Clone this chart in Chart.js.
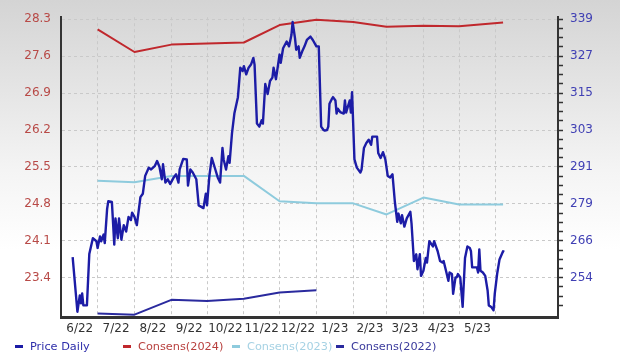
<!DOCTYPE html>
<html><head><meta charset="utf-8">
<script src="https://cdn.jsdelivr.net/npm/chart.js@4"></script>
<style>
html,body{margin:0;padding:0;}
body{width:620px;height:357px;overflow:hidden;position:relative;
  background:linear-gradient(to bottom,#d4d4d4 0px,#f4f4f4 170px,#ffffff 250px);
  font-family:'DejaVu Sans',sans-serif;}
#c{position:absolute;left:0;top:0;}
#legend{position:absolute;left:15px;top:339px;font-size:11.3px;white-space:nowrap;line-height:16px;}
.item{display:inline-block;}
.sw{display:inline-block;width:8px;height:3px;vertical-align:middle;margin-right:7px;position:relative;top:-1px;}
</style></head><body>
<canvas id="c" width="620" height="357"></canvas>
<div id="legend"></div>
<script>
// ---- data ----
const monthLabels = ['6/22','7/22','8/22','9/22','10/22','11/22','12/22','1/23','2/23','3/23','4/23','5/23'];
const leftTicks = [23.4, 24.1, 24.8, 25.5, 26.2, 26.9, 27.6, 28.3];
const rightTickLabels = ['254','266','279','291','303','315','327','339'];
const seriesNames = ['Price Daily','Consens(2024)','Consens(2023)','Consens(2022)'];

// days since 2022-06-01
const priceDays = [9,13,15,16,17,18,21,23,26,29,30,32,33,35,36,38,39,42,44,45,47,48,50,52,54,56,58,59,61,63,66,68,70,73,75,78,80,82,84,85,87,89,91,94,96,98,99,102,105,106,108,110,113,115,119,121,122,124,126,129,131,133,135,136,138,140,141,143,145,148,150,152,153,155,157,159,161,162,164,166,168,169,171,173,175,177,178,180,183,184,186,189,191,193,194,196,197,199,200,202,204,206,209,211,214,216,218,220,221,223,224,225,227,228,230,231,232,234,237,238,239,242,243,244,246,248,251,252,254,256,258,260,261,265,266,268,270,272,274,276,278,280,282,283,285,286,288,290,293,294,296,298,299,301,302,304,306,307,309,312,313,315,316,318,320,321,323,325,326,328,329,331,332,333,335,337,339,341,343,344,345,347,349,350,351,352,354,356,358,359,361,363,364,366,368,371,372];
const priceValues = [260.8,242.8,248.2,245.6,248.8,244.9,244.9,261.8,267.0,266.0,263.8,267.6,266.0,268.2,265.4,276.7,279.2,278.9,264.9,273.5,267.0,273.5,266.5,271.3,269.2,274.0,273.0,275.4,274.0,271.3,280.5,281.6,287.5,290.2,289.6,290.7,292.4,290.5,286.4,291.3,285.3,286.4,284.8,287.0,288.0,285.3,289.6,293.1,292.9,284.3,289.6,288.6,286.4,277.8,276.9,281.6,277.8,287.5,293.4,289.6,287.0,285.3,296.7,292.9,289.6,294.0,291.8,301.5,308.0,313.4,323.1,322.0,323.6,320.9,323.1,324.1,326.3,324.1,304.7,303.7,305.8,304.7,317.7,314.4,318.7,319.8,323.1,319.3,327.4,324.7,329.5,331.7,330.1,333.8,338.1,332.8,329.0,330.1,326.3,328.4,330.1,332.2,333.3,332.2,330.1,330.1,303.7,302.6,302.4,302.6,303.7,311.2,312.8,313.4,312.3,308.0,309.6,308.5,308.0,312.3,308.3,312.3,308.3,315.0,292.9,290.2,288.6,289.6,296.7,298.3,299.4,297.7,300.4,300.4,295.0,293.4,295.3,292.9,287.5,287.0,288.0,278.9,272.4,275.1,271.9,274.6,270.8,273.5,275.7,271.9,259.5,261.7,256.8,261.7,254.6,256.3,260.5,259.0,266.0,264.3,266.0,263.8,262.7,259.5,259.0,259.5,256.3,253.0,255.7,255.2,248.7,254.1,254.1,255.2,254.1,244.4,260.5,264.3,263.8,262.7,257.4,257.4,257.4,255.7,263.3,256.3,255.7,254.6,249.8,244.9,244.4,243.3,248.7,255.2,260.0,262.7,262.5];

const consensDays = [30,61,92,122,153,183,214,245,273,304,334,371];
const consens2024 = [28.11,27.68,27.82,27.84,27.86,28.19,28.29,28.25,28.16,28.18,28.17,28.24];
const consens2023 = [25.24,25.21,25.33,25.33,25.33,24.85,24.81,24.81,24.60,24.92,24.79,24.79];
const consens2022Days = [30,61,92,122,153,183,214];
const consens2022 = [22.72,22.70,22.98,22.96,23.00,23.12,23.16];

// ---- derived ----
const START = Date.UTC(2022,5,1);
const monthStarts = Array.from({length: monthLabels.length + 1}, (_, i) => (Date.UTC(2022, 5 + i, 1) - START) / 864e5);
// right axis is a linear re-labelling of the left axis (254 <-> 23.4, 339 <-> 28.3)
const kR = (339 - 254) / (28.3 - 23.4);
const toRight = v => 254 + (v - 23.4) * kR;
const leftMin = 22.655, leftMax = 28.34;

const colors = ['#1c1ca6', '#c0282d', '#8ecbdd', '#2a2a9e'];
const legendText = ['#2e2eaa', '#b8403e', '#a6d2e4', '#3a3a9c'];

const pts = (xs, ys) => xs.map((x, i) => ({x, y: ys[i]}));

Chart.defaults.font.family = "'DejaVu Sans', sans-serif";
Chart.defaults.font.size = 12;

new Chart(document.getElementById('c'), {
  type: 'line',
  data: {
    datasets: [
      {label: seriesNames[0], data: pts(priceDays, priceValues), yAxisID: 'y2', borderColor: colors[0], borderWidth: 2.4, order: 0},
      {label: seriesNames[1], data: pts(consensDays, consens2024), yAxisID: 'y', borderColor: colors[1], borderWidth: 2, order: 1},
      {label: seriesNames[2], data: pts(consensDays, consens2023), yAxisID: 'y', borderColor: colors[2], borderWidth: 2, order: 2},
      {label: seriesNames[3], data: pts(consens2022Days, consens2022), yAxisID: 'y', borderColor: colors[3], borderWidth: 2, order: 3}
    ]
  },
  options: {
    responsive: false,
    animation: false,
    parsing: false,
    elements: {point: {radius: 0}, line: {tension: 0, borderJoinStyle: 'round'}},
    layout: {padding: {top: 12, left: 0, right: 0, bottom: 0}},
    plugins: {legend: {display: false}, tooltip: {enabled: false}},
    scales: {
      x: {
        type: 'linear',
        min: -0.8, max: 417.2,
        afterBuildTicks: s => {
          const t = [];
          for (let i = 1; i < monthStarts.length; i++) t.push({value: monthStarts[i], isGrid: true, lbl: ''});
          for (let i = 0; i < monthLabels.length; i++) t.push({value: (monthStarts[i] + monthStarts[i + 1]) / 2, isGrid: false, lbl: monthLabels[i]});
          t.sort((a, b) => a.value - b.value);
          s.ticks = t;
        },
        afterFit: s => { s.height = 40; },
        ticks: {autoSkip: false, maxRotation: 0, color: '#333', padding: 5,
          callback: (v, i, ticks) => ticks[i].lbl},
        grid: {drawTicks: false, color: c => (c.tick && c.tick.isGrid) ? '#c9c9c9' : 'rgba(0,0,0,0)', lineWidth: 1},
        border: {display: true, color: '#333', width: 3, dash: [3, 3]}
      },
      y: {
        type: 'linear', position: 'left',
        min: leftMin, max: leftMax,
        afterBuildTicks: s => { s.ticks = leftTicks.map(v => ({value: v})); },
        afterFit: s => { s.width = 61; },
        ticks: {autoSkip: false, color: '#b84a47', padding: 10, callback: v => v.toFixed(1)},
        grid: {drawTicks: false, color: '#c9c9c9', lineWidth: 1},
        border: {display: true, color: '#333', width: 2, dash: [3, 3]}
      },
      y2: {
        type: 'linear', position: 'right',
        min: toRight(leftMin), max: toRight(leftMax),
        afterBuildTicks: s => {
          const t = [];
          const step = kR * 0.7;
          leftTicks.forEach((v, i) => {
            const r = toRight(v);
            t.push({value: r, lbl: rightTickLabels[i]});
            if (i < leftTicks.length - 1) for (let k = 1; k < 4; k++) t.push({value: r + step * k / 4, lbl: ''});
          });
          for (let k = 1; k < 4; k++) t.push({value: toRight(leftTicks[0]) - step * k / 4, lbl: ''});
          t.sort((a, b) => a.value - b.value);
          s.ticks = t.filter(o => o.value >= s.min && o.value <= s.max);
        },
        afterFit: s => { s.width = 62; },
        ticks: {autoSkip: false, color: '#4040b4', padding: 7, callback: (v, i, ticks) => ticks[i].lbl},
        grid: {drawOnChartArea: false, drawTicks: true, tickLength: 5, tickColor: '#333', tickWidth: 1.5},
        border: {display: true, color: '#333', width: 2}
      }
    }
  }
});

// legend (real text)
const widths = [108, 109, 104, 110];
const lg = document.getElementById('legend');
seriesNames.forEach((n, i) => {
  const it = document.createElement('span');
  it.className = 'item';
  it.style.width = widths[i] + 'px';
  it.innerHTML = '<span class="sw" style="background:' + colors[i] + '"></span><span style="color:' + legendText[i] + '">' + n + '</span>';
  lg.appendChild(it);
});
</script>
</body></html>
